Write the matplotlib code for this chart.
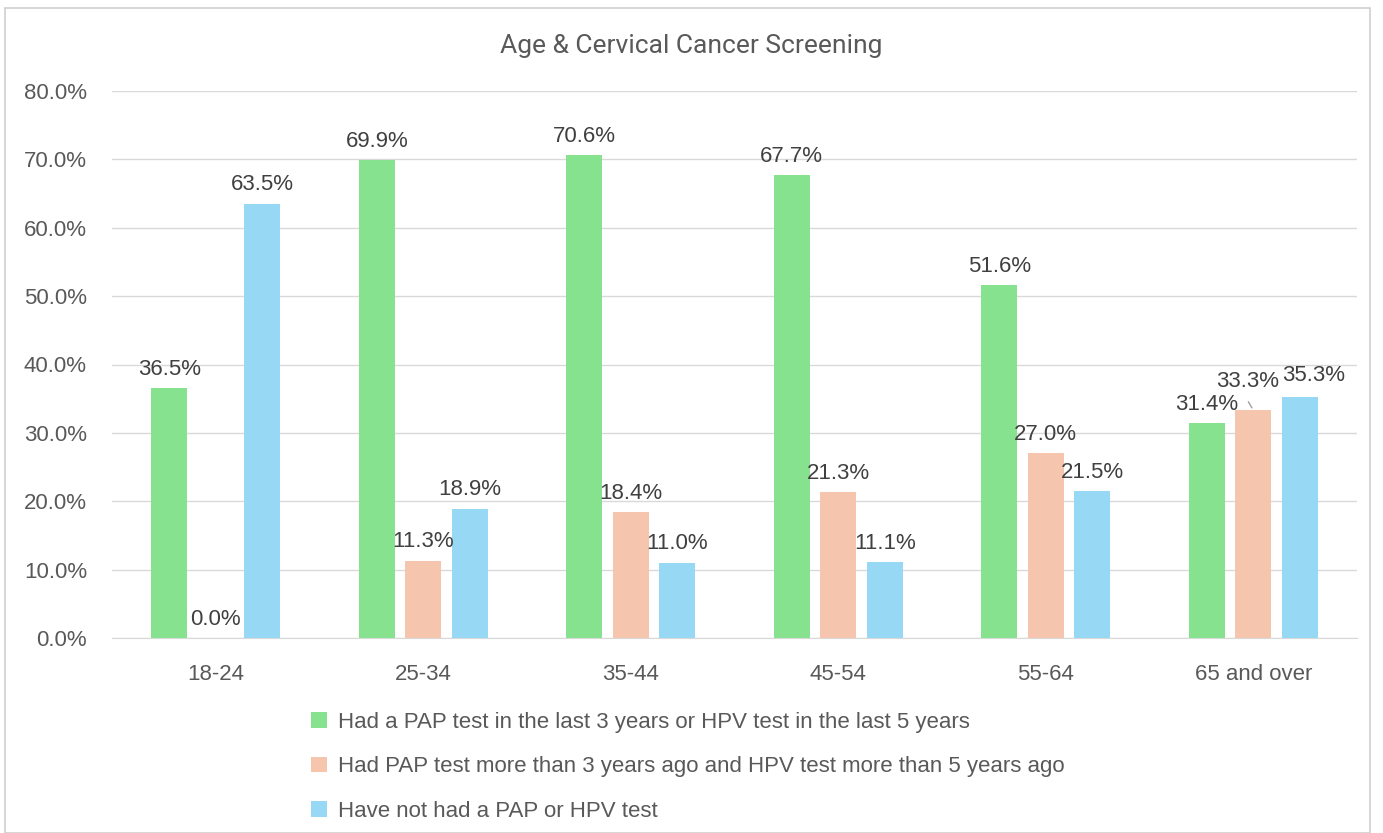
import numpy as np
import matplotlib.pyplot as plt
from matplotlib.patches import Rectangle

plt.rcParams['font.family'] = ['Liberation Sans', 'DejaVu Sans']

categories = ["18-24", "25-34", "35-44", "45-54", "55-64", "65 and over"]
recent = [36.5, 69.9, 70.6, 67.7, 51.6, 31.4]
older = [0.0, 11.3, 18.4, 21.3, 27.0, 33.3]
never = [63.5, 18.9, 11.0, 11.1, 21.5, 35.3]
series_names = [
    "Had a PAP test in the last 3 years or HPV test in the last 5 years",
    "Had PAP test more than 3 years ago and HPV test more than 5 years ago",
    "Have not had a PAP or HPV test",
]
colors = ["#86E28F", "#F5C6AD", "#97D9F5"]
title = "Age & Cervical Cancer Screening"

fig = plt.figure(figsize=(13.83, 8.33), dpi=100)
fig.patches.append(Rectangle((5/1383, 0.0), 1365/1383, 1 - 8/833, transform=fig.transFigure,
                             fill=False, edgecolor="#D0D0D0", linewidth=1.2))
ax = fig.add_axes([112/1383, 1 - 638/833, 1245/1383, 547/833])

x = np.arange(len(categories))
width = 0.173
offs = [-0.224, 0.0, 0.224]
all_vals = [recent, older, never]
for vals, off, c, name in zip(all_vals, offs, colors, series_names):
    ax.bar(x + off, np.array(vals) / 100, width, color=c, label=name, zorder=3)

# data labels, a few nudged like the original
nudge = {(1, 5): (-4, 7), (2, 5): (10, 2)}
for si, (vals, off) in enumerate(zip(all_vals, offs)):
    for ci, v in enumerate(vals):
        dx, dy = nudge.get((si, ci), (0, 0))
        ax.annotate(f"{v:.1f}%", (x[ci] + off, v / 100), xytext=(dx, 6 + dy),
                    textcoords="offset points", ha="center", va="bottom",
                    fontsize=16, color="#404040", zorder=4)
# leader line for 33.3%
ax.annotate("", (x[5], older[5] / 100), xytext=(x[5] - 0.03, older[5] / 100 + 0.016),
            arrowprops=dict(arrowstyle="-", color="#A0A0A0", lw=1))

ax.set_xlim(-0.5, len(categories) - 0.5)
ax.set_ylim(0, 0.8)
ax.set_yticks(np.arange(0, 0.81, 0.1))
ax.set_yticklabels([f"{t*100:.1f}%" for t in np.arange(0, 0.81, 0.1)])
ax.set_xticks(x)
ax.set_xticklabels(categories)
ax.tick_params(axis="both", length=0, labelsize=16, labelcolor="#595959")
ax.tick_params(axis="x", pad=19)
ax.tick_params(axis="y", pad=18)
ax.grid(axis="y", color="#D9D9D9", linewidth=1, zorder=0)
for s in ["top", "right", "left"]:
    ax.spines[s].set_visible(False)
ax.spines["bottom"].set_color("#D9D9D9")

fig.text(0.5, 1 - 46/833, title, ha="center", va="center", fontsize=19,
         color="#595959", family=["Roboto", "DejaVu Sans"])

fig.legend(loc="upper left", bbox_to_anchor=(291/1383, 1 - 692/833), frameon=False,
           fontsize=16, labelcolor="#595959", handlelength=0.7, handleheight=0.7,
           handletextpad=0.5, labelspacing=1.05, ncol=1)

fig.savefig("out.png", dpi=100)
